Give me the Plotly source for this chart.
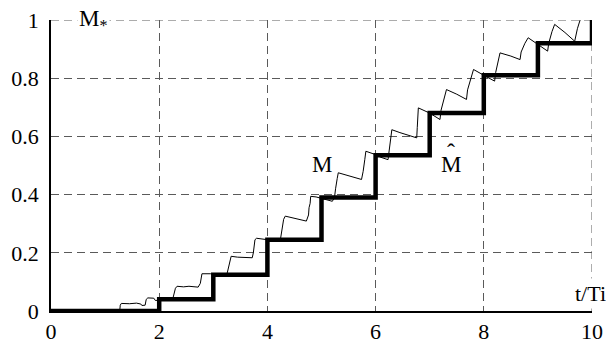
import plotly.graph_objects as go

# Thick staircase (M hat), sampled at integer t/Ti
t_hat = [0, 1, 2, 3, 4, 5, 6, 7, 8, 9, 10]
m_hat = [0, 0, 0.04, 0.125, 0.245, 0.39, 0.535, 0.68, 0.81, 0.92, 1.0]

# Thin continuous M curve
t_m = [0, 1.27, 1.28, 1.30, 1.45, 1.58, 1.66, 1.68, 1.74, 1.76, 1.79, 1.90, 1.93, 2.0,
       2.1, 2.25, 2.27, 2.29, 2.30, 2.33, 2.45, 2.55, 2.68, 2.72, 2.76, 2.77, 2.79, 2.95, 3.0,
       3.25, 3.28, 3.29, 3.31, 3.33, 3.45, 3.55, 3.62, 3.72, 3.74, 3.75, 3.77, 3.80, 3.92, 4.0,
       4.24, 4.26, 4.27, 4.29, 4.30, 4.33, 4.45, 4.6, 4.72, 4.76, 4.77, 4.79, 4.80, 4.9, 5.0,
       5.1, 5.2, 5.24, 5.26, 5.27, 5.29, 5.31, 5.5, 5.74, 5.77, 5.78, 5.80, 5.82, 5.99,
       6.1, 6.23, 6.25, 6.27, 6.28, 6.30, 6.45, 6.6, 6.76, 6.77, 6.78, 6.79, 7.0, 7.19,
       7.21, 7.24, 7.27, 7.31, 7.5, 7.68, 7.70, 7.73, 7.76, 7.81, 8.0, 8.2,
       8.22, 8.25, 8.27, 8.30, 8.5, 8.67, 8.69, 8.72, 8.76, 8.82, 9.0, 9.18,
       9.20, 9.23, 9.26, 9.31, 9.5, 9.68, 9.70, 9.73, 9.78]
m_vals = [0, 0.0, 0.02, 0.026, 0.025, 0.027, 0.024, 0.019, 0.02, 0.04, 0.045, 0.044, 0.036, 0.038,
          0.04, 0.041, 0.06, 0.066, 0.078, 0.085, 0.083, 0.085, 0.083, 0.082, 0.095, 0.11, 0.128, 0.128, 0.125,
          0.125, 0.15, 0.165, 0.175, 0.188, 0.185, 0.184, 0.182, 0.183, 0.2, 0.22, 0.245, 0.25, 0.248, 0.245,
          0.245, 0.27, 0.29, 0.30, 0.315, 0.326, 0.32, 0.314, 0.309, 0.33, 0.355, 0.37, 0.394, 0.392, 0.388,
          0.382, 0.377, 0.39, 0.42, 0.44, 0.455, 0.475, 0.465, 0.452, 0.48, 0.5, 0.52, 0.549, 0.538,
          0.528, 0.52, 0.55, 0.575, 0.59, 0.623, 0.613, 0.604, 0.595, 0.63, 0.66, 0.698, 0.68, 0.658,
          0.69, 0.71, 0.73, 0.761, 0.745, 0.727, 0.76, 0.78, 0.80, 0.83, 0.81, 0.79,
          0.82, 0.85, 0.86, 0.887, 0.876, 0.864, 0.89, 0.905, 0.92, 0.939, 0.917, 0.893,
          0.92, 0.945, 0.96, 0.985, 0.957, 0.927, 0.95, 0.97, 1.0]

x_ticks = [0, 2, 4, 6, 8, 10]
x_labels = ["0", "2", "4", "6", "8", "10"]
y_ticks = [0, 0.2, 0.4, 0.6, 0.8, 1]
y_labels = ["0", "0.2", "0.4", "0.6", "0.8", "1"]

FONT = "Liberation Serif, Times New Roman, serif"
GRID_COLOR = "#5a5a5a"
GRID_DASH = "8px,5px"

fig = go.Figure()
fig.add_trace(go.Scatter(x=t_m, y=m_vals, mode="lines",
                         line=dict(color="black", width=1), showlegend=False))
fig.add_trace(go.Scatter(x=t_hat, y=m_hat, mode="lines", line_shape="hv",
                         line=dict(color="black", width=4.5), showlegend=False))

grid = dict(showgrid=True, gridcolor=GRID_COLOR, gridwidth=1, griddash=GRID_DASH,
            zeroline=False, showline=True, linecolor="black", linewidth=1.5,
            ticks="", automargin=False, ticklabeloverflow="allow",
            tickfont=dict(family=FONT, size=22, color="black"))

fig.update_xaxes(range=[0, 10], tickvals=x_ticks, ticktext=x_labels, **grid)
fig.update_yaxes(range=[0, 1], tickvals=y_ticks, ticktext=y_labels,
                 ticklabelstandoff=6, **grid)

# edge grid lines (top y=1 and right x=10), drawn below the data
fig.add_shape(type="line", xref="paper", yref="y", x0=0, x1=1, y0=1, y1=1,
              line=dict(color=GRID_COLOR, width=1, dash=GRID_DASH), layer="below")
fig.add_shape(type="line", xref="x", yref="paper", x0=10, x1=10, y0=0, y1=1,
              line=dict(color=GRID_COLOR, width=1, dash=GRID_DASH), layer="below")

ann_font = dict(family=FONT, size=23, color="black")
fig.add_annotation(x=0.78, y=1.0, xref="x", yref="y", text="M<sub>*</sub>",
                   showarrow=False, font=ann_font, bgcolor="white", borderpad=1)
fig.add_annotation(x=5.0, y=0.502, xref="x", yref="y", text="M",
                   showarrow=False, font=ann_font)
fig.add_annotation(x=7.39, y=0.502, xref="x", yref="y", text="M",
                   showarrow=False, font=ann_font)
fig.add_annotation(x=7.39, y=0.545, xref="x", yref="y", text="ˆ",
                   showarrow=False, font=dict(family=FONT, size=24, color="black"))
fig.add_annotation(x=1.0, y=0.06, xref="paper", yref="y", xshift=-2, xanchor="center",
                   text="t/Ti", showarrow=False,
                   font=dict(family=FONT, size=22, color="black"),
                   bgcolor="white", borderpad=2)

# page body has an 8px default margin, so the figure is sized to fit the window
fig.update_layout(width=606, height=332, margin=dict(l=43, r=22, t=12, b=29),
                  paper_bgcolor="white", plot_bgcolor="white", showlegend=False)

fig.write_html("out.html")
